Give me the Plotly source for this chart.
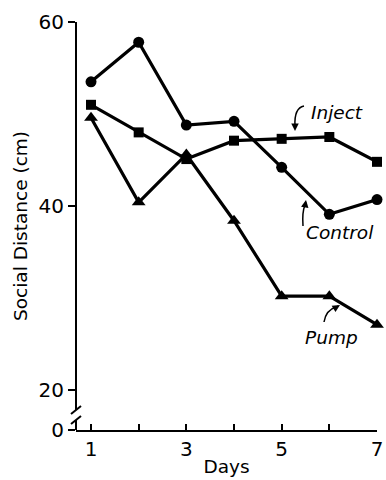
import plotly.graph_objects as go

days = [1, 2, 3, 4, 5, 6, 7]
control = [53.5, 57.8, 48.8, 49.2, 44.2, 39.1, 40.7]
inject = [51.0, 48.0, 45.1, 47.1, 47.3, 47.5, 44.8]
pump = [49.6, 40.4, 45.6, 38.4, 30.2, 30.2, 27.1]

x_ticks = [1, 2, 3, 4, 5, 6, 7]
x_ticktext = ["1", "", "3", "", "5", "", "7"]
Y_BOTTOM = 15.65
y_ticks = [Y_BOTTOM, 20, 40, 60]
y_ticktext = ["0", "20", "40", "60"]

FONT = "DejaVu Sans"
W, H = 386, 480
L, R, T, B = 76, 9, 22, 50
X0, X1 = 0.685, 7.0
Y0, Y1 = Y_BOTTOM, 60.0
plot_h = H - T - B
plot_w = W - L - R

def py(px):
    # pixel row -> y data value (layout helper for decorations)
    return Y1 - (px - T) / plot_h * (Y1 - Y0)

def dx(px):
    return X0 + (px - L) / plot_w * (X1 - X0)

def pxf(px):
    return (px - L) / plot_w

fig = go.Figure()
line_style = dict(color="black", width=3.2)
fig.add_trace(go.Scatter(x=days, y=control, mode="lines+markers", line=line_style,
                         marker=dict(symbol="circle", size=11, color="black"), cliponaxis=False))
fig.add_trace(go.Scatter(x=days, y=inject, mode="lines+markers", line=line_style,
                         marker=dict(symbol="square", size=10, color="black"), cliponaxis=False))
fig.add_trace(go.Scatter(x=days, y=pump, mode="lines+markers", line=line_style,
                         marker=dict(symbol="triangle-up", size=12, color="black"), cliponaxis=False))

fig.update_layout(
    width=W, height=H, margin=dict(l=L, r=R, t=T, b=B, autoexpand=False),
    paper_bgcolor="white", plot_bgcolor="white", showlegend=False,
    font=dict(family=FONT, color="black", size=18),
    xaxis=dict(range=[X0, X1], tickvals=x_ticks, ticktext=x_ticktext, ticks="inside",
               ticklen=6, tickwidth=2, tickcolor="black", showline=True, linewidth=2,
               linecolor="black", showgrid=False, zeroline=False,
               tickfont=dict(size=20, family=FONT),
               title=dict(text="Days", font=dict(size=18.5, family=FONT), standoff=0)),
    yaxis=dict(range=[Y0, Y1], tickvals=y_ticks, ticktext=y_ticktext, ticks="outside",
               ticklen=7, tickwidth=2, tickcolor="black", showline=False,
               showgrid=False, zeroline=False, ticklabelstandoff=0,
               tickfont=dict(size=20, family=FONT),
               title=dict(text="Social Distance (cm)", font=dict(size=18.5, family=FONT), standoff=6)),
)

# y axis line with a break
blk = dict(color="black", width=2)
fig.add_shape(type="line", xref="paper", yref="y", x0=0, x1=0, y0=py(410), y1=Y1, line=blk)
fig.add_shape(type="line", xref="paper", yref="y", x0=0, x1=0, y0=Y0, y1=py(420), line=blk)
fig.add_shape(type="line", xref="paper", yref="y", x0=pxf(71), x1=pxf(81), y0=py(414), y1=py(406), line=blk)
fig.add_shape(type="line", xref="paper", yref="y", x0=pxf(71), x1=pxf(81), y0=py(424), y1=py(416), line=blk)

lab_font = dict(family=FONT, size=18.5, color="black")
fig.add_annotation(x=dx(337), y=py(112), text="<i>Inject</i>", showarrow=False, font=lab_font)
fig.add_annotation(x=dx(340), y=py(232), text="<i>Control</i>", showarrow=False, font=lab_font)
fig.add_annotation(x=dx(331), y=py(337), text="<i>Pump</i>", showarrow=False, font=lab_font)

# curved leaders
def leader(p0, c, p1):
    path = "M {},{} Q {},{} {},{}".format(dx(p0[0]), py(p0[1]), dx(c[0]), py(c[1]), dx(p1[0]), py(p1[1]))
    fig.add_shape(type="path", xref="x", yref="y", path=path, line=dict(color="black", width=1.5))

leader((304, 106), (294, 108), (295, 126))
leader((303, 226), (302, 212), (305, 205))
leader((324, 322), (326, 310), (336, 307))

arrow = dict(showarrow=True, arrowhead=2, arrowsize=1, arrowwidth=1.5, arrowcolor="black", text="")
fig.add_annotation(x=dx(295), y=py(131), ax=0, ay=-6, **arrow)
fig.add_annotation(x=dx(306), y=py(200), ax=-1, ay=6, **arrow)
fig.add_annotation(x=dx(340), y=py(305), ax=-5, ay=3, **arrow)

fig.write_html("out.html")
